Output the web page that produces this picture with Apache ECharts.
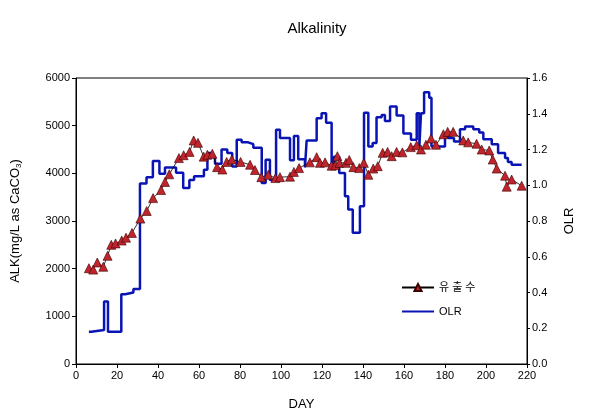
<!DOCTYPE html>
<html><head><meta charset="utf-8">
<script src="https://cdn.jsdelivr.net/npm/echarts@6/dist/echarts.min.js"></script>
<style>html,body{margin:0;padding:0;background:#fff}#c{width:601px;height:416px}</style>
</head><body><div id="c"></div>
<script>
const alkDays = [6.3,8.4,10.4,13.3,15.4,17.2,19.3,22.3,24.4,27.3,31.4,34.5,37.6,41.5,43.4,45.5,50.2,52.5,55.4,57.4,59.5,62.3,64.1,66.5,68.8,71.4,73.5,76.0,80.3,84.9,87.3,90.4,93.8,97.3,99.5,104.4,106.3,108.8,114.1,117.4,119.0,121.5,124.7,126.5,127.5,128.5,131.7,133.3,135.3,138.2,140.4,142.6,145.0,147.2,149.6,152.0,154.0,156.4,159.2,163.3,166.2,168.3,170.7,173.2,175.6,179.2,181.3,184.0,188.9,191.3,195.4,197.9,201.6,203.3,205.2,209.3,210.1,212.5,217.4];
const alkValues = [2010,1980,2130,2040,2270,2500,2530,2590,2650,2750,3050,3210,3480,3650,3820,3980,4320,4380,4450,4690,4640,4350,4390,4410,4130,4080,4240,4290,4240,4180,4070,3920,3970,3900,3920,3930,4030,4110,4230,4340,4220,4230,4160,4170,4360,4220,4220,4280,4130,4110,4220,3970,4100,4150,4430,4450,4360,4450,4440,4550,4590,4500,4600,4730,4600,4820,4870,4870,4690,4650,4620,4500,4480,4290,4100,3950,3720,3870,3740];
const olrDays = [6.3,7.5,13.7,15.6,22.1,24.0,28.0,31.2,34.4,37.5,40.7,43.4,48.8,52.3,55.3,57.6,62.4,64.1,66.2,67.8,71.0,73.8,76.2,78.4,80.8,84.0,86.5,90.6,92.5,94.6,97.6,99.5,104.4,106.3,108.4,111.7,112.5,117.4,119.8,122.0,124.7,125.8,128.4,131.2,132.8,135.0,138.5,140.5,142.6,144.7,146.6,149.1,150.7,153.2,156.4,159.7,163.4,166.2,167.5,168.3,169.8,172.3,173.4,180.0,181.5,184.4,187.3,189.8,193.8,196.7,198.7,202.8,205.9,209.3,210.7,212.5,217.4];
const olrValues = [0.18,0.19,0.35,0.18,0.39,0.40,0.42,1.01,1.045,1.135,1.065,1.10,1.07,0.985,1.03,1.05,1.087,1.18,1.16,1.12,1.20,1.18,1.105,1.254,1.24,1.23,1.21,1.013,1.143,1.03,1.31,1.264,1.14,1.276,1.146,1.10,1.25,1.375,1.403,1.35,1.124,1.16,1.069,0.938,0.864,0.734,0.882,1.406,1.217,1.236,1.38,1.393,1.36,1.44,1.39,1.29,1.255,1.403,1.217,1.403,1.52,1.49,1.217,1.29,1.264,1.245,1.313,1.328,1.313,1.295,1.258,1.23,1.18,1.152,1.13,1.115,1.115];
const seriesNames = ['유 출 수', 'OLR'];

const chart = echarts.init(document.getElementById('c'));
const F = 'Arial, "Liberation Sans", sans-serif';
chart.setOption({
  animation: false,
  backgroundColor: '#fff',
  title: { text: 'Alkalinity', left: 312, top: 16, textAlign: 'center',
    textStyle: { fontFamily: F, fontSize: 15, fontWeight: 'normal', color: '#000' } },
  grid: { left: 76, right: 74, top: 78, bottom: 51, show: true, borderColor: '#000', borderWidth: 1 },
  legend: {
    orient: 'vertical', left: 396, top: 277, itemGap: 13, itemWidth: 32, itemHeight: 9,
    data: [{ name: seriesNames[0] }, { name: seriesNames[1], itemStyle: { opacity: 0 } }],
    textStyle: { fontFamily: 'Arial, "Noto Sans CJK KR", sans-serif', fontSize: 11, color: '#000' }
  },
  xAxis: {
    type: 'value', min: 0, max: 220, interval: 20,
    name: 'DAY', nameLocation: 'middle', nameGap: 34,
    nameTextStyle: { fontFamily: F, fontSize: 13, color: '#000' },
    axisLine: { lineStyle: { color: '#000' } },
    axisTick: { inside: false, length: 4, lineStyle: { color: '#000' } },
    axisLabel: { fontFamily: F, fontSize: 11, color: '#000', margin: 6 },
    splitLine: { show: false }
  },
  yAxis: [{
    type: 'value', min: 0, max: 6000, interval: 1000,
    name: '{a|ALK(mg/L as CaCO}{s|3}{a|)}', nameLocation: 'middle', nameGap: 53, nameRotate: 90,
    nameTextStyle: { rich: {
      a: { fontFamily: F, fontSize: 13, color: '#000' },
      s: { fontFamily: F, fontSize: 8, color: '#000', padding: [8, 0, 0, 0] }
    } },
    axisLine: { show: true, lineStyle: { color: '#000' } },
    axisTick: { show: true, length: 4, lineStyle: { color: '#000' } },
    axisLabel: { fontFamily: F, fontSize: 11, color: '#000', margin: 6, formatter: v => String(v) },
    splitLine: { show: false }
  }, {
    type: 'value', min: 0, max: 1.6, interval: 0.2, position: 'right',
    name: 'OLR', nameLocation: 'middle', nameGap: 36, nameRotate: 90,
    nameTextStyle: { fontFamily: F, fontSize: 13, color: '#000' },
    axisLine: { show: true, lineStyle: { color: '#000' } },
    axisTick: { show: true, length: 3, lineStyle: { color: '#000' } },
    axisLabel: { fontFamily: F, fontSize: 11, color: '#000', margin: 5, formatter: v => v.toFixed(1) },
    splitLine: { show: false }
  }],
  series: [{
    name: seriesNames[0], type: 'line', yAxisIndex: 0,
    data: alkDays.map((d, i) => [d, alkValues[i]]),
    symbol: 'triangle', symbolSize: 9,
    itemStyle: { color: '#c0242c', borderColor: '#3a0000', borderWidth: 0.6 },
    lineStyle: { color: '#000', width: 0.8 },
    z: 3
  }, {
    name: seriesNames[1], type: 'line', yAxisIndex: 1, step: 'end',
    data: olrDays.map((d, i) => [d, olrValues[i]]),
    showSymbol: false, symbol: 'none',
    itemStyle: { color: '#0a14b4' },
    lineStyle: { color: '#0a14b4', width: 2.5 },
    z: 2
  }]
});
</script></body></html>
